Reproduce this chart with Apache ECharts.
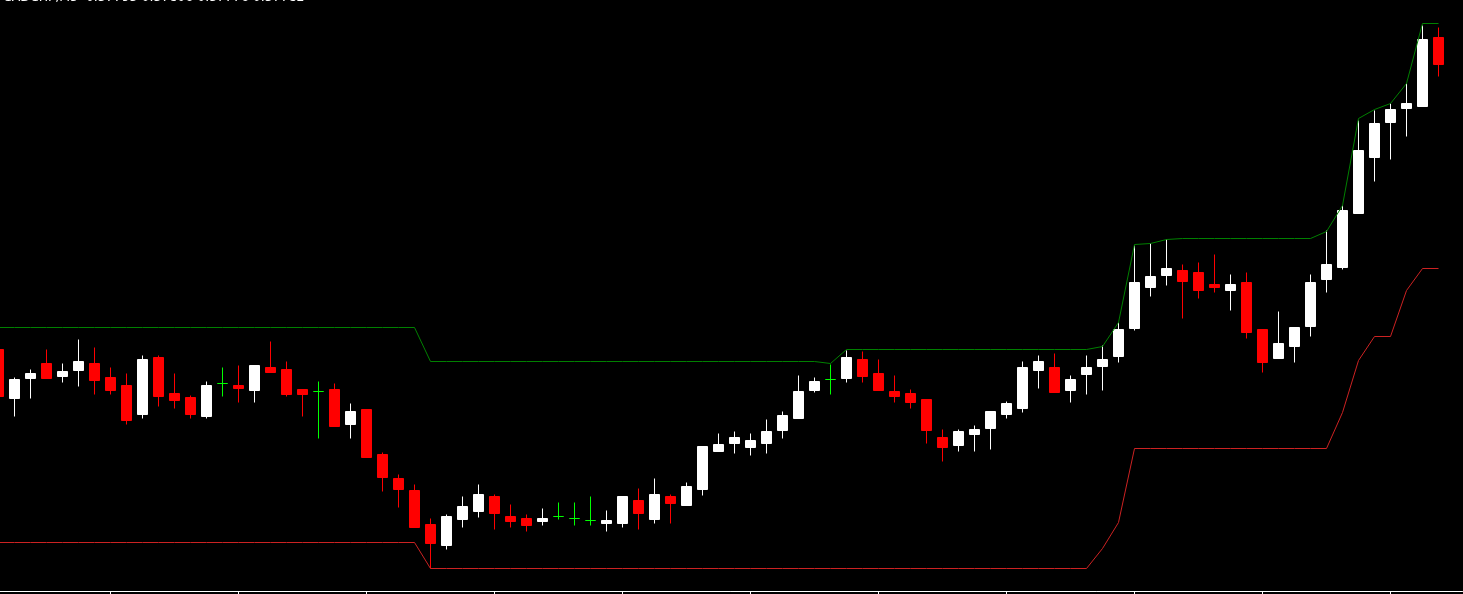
<!DOCTYPE html>
<html><head><meta charset="utf-8">
<script src="https://cdn.jsdelivr.net/npm/echarts@6/dist/echarts.min.js"></script>
<style>html,body{margin:0;padding:0;background:#000;overflow:hidden}#c{width:1463px;height:594px}</style>
</head><body><div id="c"></div><script>
const titleText = 'CADCHF,M5  0.57795 0.57806 0.57776 0.57782';
const categories = [
'08:00','08:05','08:10','08:15','08:20','08:25','08:30','08:35','08:40','08:45','08:50','08:55',
'09:00','09:05','09:10','09:15','09:20','09:25','09:30','09:35','09:40','09:45','09:50','09:55',
'10:00','10:05','10:10','10:15','10:20','10:25','10:30','10:35','10:40','10:45','10:50','10:55',
'11:00','11:05','11:10','11:15','11:20','11:25','11:30','11:35','11:40','11:45','11:50','11:55',
'12:00','12:05','12:10','12:15','12:20','12:25','12:30','12:35','12:40','12:45','12:50','12:55',
'13:00','13:05','13:10','13:15','13:20','13:25','13:30','13:35','13:40','13:45','13:50','13:55',
'14:00','14:05','14:10','14:15','14:20','14:25','14:30','14:35','14:40','14:45','14:50','14:55',
'15:00','15:05','15:10','15:15','15:20','15:25','15:30','15:35'];
const opens = [
0.57484,0.57435,0.57455,0.57470,0.57457,0.57463,0.57470,0.57456,0.57448,0.57419,
0.57476,0.57440,0.57436,0.57417,0.57450,0.57448,0.57443,0.57466,0.57464,0.57444,
0.57442,0.57444,0.57409,0.57424,0.57379,0.57355,0.57343,0.57309,0.57288,0.57314,
0.57322,0.57337,0.57317,0.57315,0.57312,0.57317,0.57315,0.57313,0.57310,0.57310,
0.57333,0.57314,0.57337,0.57328,0.57344,0.57382,0.57390,0.57386,0.57390,0.57403,
0.57415,0.57443,0.57454,0.57455,0.57474,0.57460,0.57442,0.57440,0.57434,0.57396,
0.57388,0.57399,0.57405,0.57419,0.57425,0.57463,0.57466,0.57443,0.57459,0.57467,
0.57477,0.57505,0.57546,0.57558,0.57563,0.57561,0.57549,0.57543,0.57551,0.57504,
0.57475,0.57487,0.57507,0.57554,0.57566,0.57620,0.57676,0.57711,0.57725,0.57727,
0.57796];
const closes = [
0.57437,0.57454,0.57460,0.57455,0.57462,0.57472,0.57453,0.57443,0.57413,0.57474,
0.57437,0.57433,0.57419,0.57448,0.57450,0.57445,0.57468,0.57461,0.57439,0.57439,
0.57442,0.57407,0.57422,0.57376,0.57356,0.57344,0.57306,0.57290,0.57317,0.57327,
0.57339,0.57320,0.57312,0.57308,0.57315,0.57317,0.57315,0.57313,0.57313,0.57337,
0.57320,0.57339,0.57330,0.57347,0.57387,0.57389,0.57396,0.57393,0.57402,0.57418,
0.57442,0.57452,0.57454,0.57476,0.57457,0.57443,0.57437,0.57431,0.57403,0.57386,
0.57402,0.57404,0.57422,0.57430,0.57466,0.57472,0.57441,0.57454,0.57466,0.57474,
0.57504,0.57551,0.57557,0.57565,0.57552,0.57543,0.57546,0.57549,0.57501,0.57471,
0.57490,0.57506,0.57551,0.57569,0.57623,0.57683,0.57710,0.57724,0.57730,0.57794,
0.57769];
const lows = [
0.57436,0.57417,0.57435,0.57455,0.57451,0.57447,0.57439,0.57439,0.57409,0.57415,
0.57427,0.57425,0.57415,0.57415,0.57437,0.57431,0.57431,0.57461,0.57437,0.57417,
0.57395,0.57407,0.57395,0.57376,0.57342,0.57326,0.57306,0.57265,0.57284,0.57306,
0.57316,0.57304,0.57306,0.57302,0.57308,0.57314,0.57308,0.57308,0.57302,0.57306,
0.57304,0.57310,0.57310,0.57328,0.57338,0.57382,0.57380,0.57378,0.57380,0.57395,
0.57415,0.57441,0.57439,0.57451,0.57451,0.57443,0.57431,0.57425,0.57390,0.57372,
0.57382,0.57382,0.57384,0.57415,0.57421,0.57445,0.57441,0.57431,0.57439,0.57443,
0.57471,0.57503,0.57537,0.57548,0.57515,0.57535,0.57541,0.57523,0.57495,0.57461,
0.57475,0.57471,0.57497,0.57541,0.57564,0.57620,0.57652,0.57674,0.57697,0.57727,
0.57757];
const highs = [
0.57485,0.57456,0.57464,0.57484,0.57470,0.57494,0.57486,0.57466,0.57460,0.57478,
0.57478,0.57460,0.57438,0.57452,0.57466,0.57468,0.57468,0.57492,0.57472,0.57444,
0.57452,0.57450,0.57430,0.57424,0.57381,0.57359,0.57349,0.57315,0.57319,0.57337,
0.57349,0.57339,0.57329,0.57319,0.57325,0.57331,0.57331,0.57337,0.57323,0.57337,
0.57345,0.57355,0.57339,0.57351,0.57387,0.57400,0.57402,0.57400,0.57414,0.57422,
0.57458,0.57456,0.57469,0.57483,0.57482,0.57474,0.57458,0.57444,0.57434,0.57404,
0.57404,0.57408,0.57422,0.57432,0.57472,0.57478,0.57480,0.57458,0.57478,0.57488,
0.57511,0.57588,0.57590,0.57594,0.57569,0.57571,0.57579,0.57559,0.57561,0.57504,
0.57522,0.57506,0.57559,0.57603,0.57628,0.57713,0.57723,0.57730,0.57750,0.57808,
0.57806];
const upperBand = [
0.57506,0.57506,0.57506,0.57506,0.57506,0.57506,0.57506,0.57506,0.57506,0.57506,
0.57506,0.57506,0.57506,0.57506,0.57506,0.57506,0.57506,0.57506,0.57506,0.57506,
0.57506,0.57506,0.57506,0.57506,0.57506,0.57506,0.57506,0.57472,0.57472,0.57472,
0.57472,0.57472,0.57472,0.57472,0.57472,0.57472,0.57472,0.57472,0.57472,0.57472,
0.57472,0.57472,0.57472,0.57472,0.57472,0.57472,0.57472,0.57472,0.57472,0.57472,
0.57472,0.57472,0.57470,0.57484,0.57484,0.57484,0.57484,0.57484,0.57484,0.57484,
0.57484,0.57484,0.57484,0.57484,0.57484,0.57484,0.57484,0.57484,0.57484,0.57487,
0.57511,0.57589,0.57590,0.57594,0.57595,0.57595,0.57595,0.57595,0.57595,0.57595,
0.57595,0.57595,0.57595,0.57602,0.57628,0.57715,0.57724,0.57730,0.57750,0.57810,
0.57810];
const lowerBand = [
0.57291,0.57291,0.57291,0.57291,0.57291,0.57291,0.57291,0.57291,0.57291,0.57291,
0.57291,0.57291,0.57291,0.57291,0.57291,0.57291,0.57291,0.57291,0.57291,0.57291,
0.57291,0.57291,0.57291,0.57291,0.57291,0.57291,0.57291,0.57265,0.57265,0.57265,
0.57265,0.57265,0.57265,0.57265,0.57265,0.57265,0.57265,0.57265,0.57265,0.57265,
0.57265,0.57265,0.57265,0.57265,0.57265,0.57265,0.57265,0.57265,0.57265,0.57265,
0.57265,0.57265,0.57265,0.57265,0.57265,0.57265,0.57265,0.57265,0.57265,0.57265,
0.57265,0.57265,0.57265,0.57265,0.57265,0.57265,0.57265,0.57265,0.57265,0.57285,
0.57311,0.57385,0.57385,0.57385,0.57385,0.57385,0.57385,0.57385,0.57385,0.57385,
0.57385,0.57385,0.57385,0.57385,0.57421,0.57473,0.57497,0.57497,0.57543,0.57565,
0.57565];

const UP = '#ffffff', DOWN = '#ff0000', DOJI = '#00ff00';
const candleData = opens.map((o, i) => {
  const item = { value: [o, closes[i], lows[i], highs[i]] };
  if (o === closes[i]) item.itemStyle = { color: DOJI, color0: DOJI, borderColor: DOJI, borderColor0: DOJI };
  return item;
});

const chart = echarts.init(document.getElementById('c'), null, { renderer: 'canvas' });
chart.setOption({
  backgroundColor: '#000000',
  animation: false,
  grid: { left: -9.5, top: 0.5, width: 1472, height: 591, containLabel: false, outerBoundsMode: 'none' },
  xAxis: {
    type: 'category', data: categories, boundaryGap: true,
    axisLine: { show: true, onZero: false, lineStyle: { color: '#ffffff', width: 1 } },
    axisTick: { show: true, alignWithLabel: true, length: 5, interval: (i) => i % 8 === 7, lineStyle: { color: '#ffffff', width: 1 } },
    axisLabel: { show: false }, splitLine: { show: false }
  },
  yAxis: { type: 'value', min: 0.57242, max: 0.57833, show: false, scale: true, splitLine: { show: false } },
  series: [
    {
      type: 'candlestick', data: candleData, barWidth: 10, silent: true, z: 2,
      itemStyle: { color: UP, color0: DOWN, borderColor: UP, borderColor0: DOWN, borderColorDoji: DOJI, borderWidth: 1 }
    },
    { type: 'line', data: upperBand, showSymbol: false, symbol: 'none', silent: true, z: 3,
      lineStyle: { color: '#008000', width: 1 } },
    { type: 'line', data: lowerBand, showSymbol: false, symbol: 'none', silent: true, z: 3,
      lineStyle: { color: '#cc2222', width: 1 } }
  ],
  graphic: [{
    type: 'text', x: 3, y: 4, silent: true,
    style: { text: titleText, fill: '#ffffff', font: '12.5px "DejaVu Sans"', verticalAlign: 'bottom' }
  }]
});
</script></body></html>
